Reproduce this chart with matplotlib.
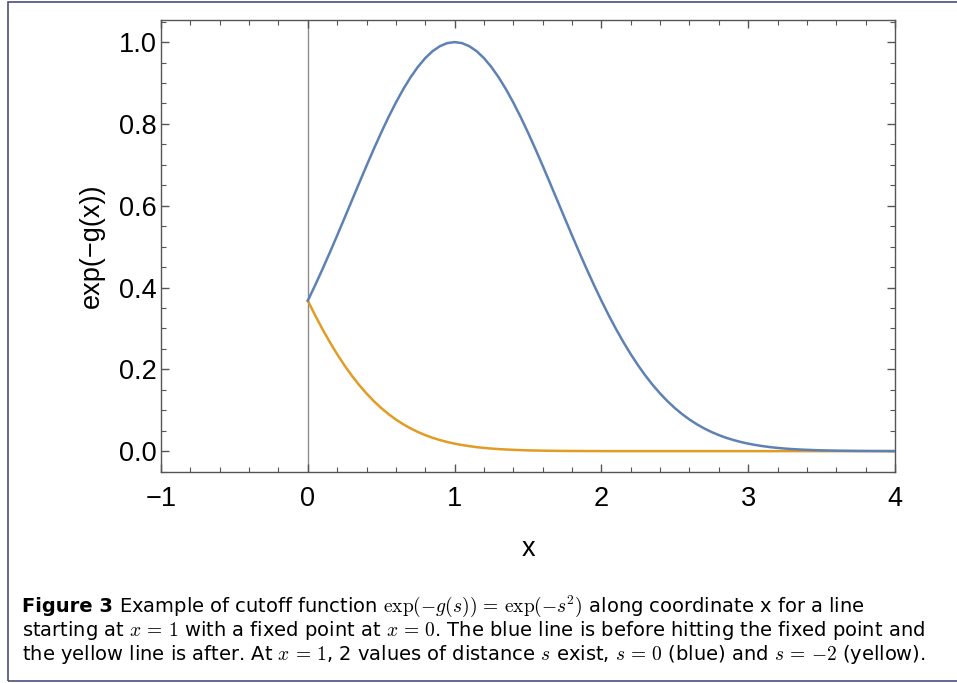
import numpy as np
import matplotlib
matplotlib.use('Agg')
import matplotlib.pyplot as plt
from matplotlib.patches import Rectangle
from matplotlib.ticker import MultipleLocator

plt.rcParams['mathtext.fontset'] = 'cm'

# values, x step 0.05 from 0 to 4
x_vals = [round(0.05 * i, 2) for i in range(81)]
blue_vals = [0.3679, 0.4056, 0.4449, 0.4855, 0.5273, 0.5698, 0.6126, 0.6554, 0.6977, 0.7390,
             0.7788, 0.8167, 0.8521, 0.8847, 0.9139, 0.9394, 0.9608, 0.9778, 0.9900, 0.9975,
             1.0000,
             0.9975, 0.9900, 0.9778, 0.9608, 0.9394, 0.9139, 0.8847, 0.8521, 0.8167, 0.7788,
             0.7390, 0.6977, 0.6554, 0.6126, 0.5698, 0.5273, 0.4855, 0.4449, 0.4056, 0.3679,
             0.3320, 0.2982, 0.2665, 0.2369, 0.2096, 0.1845, 0.1616, 0.1409, 0.1221, 0.1054,
             0.0905, 0.0773, 0.0657, 0.0556, 0.0468, 0.0392, 0.0326, 0.0271, 0.0223, 0.0183,
             0.0150, 0.0122, 0.0098, 0.0079, 0.0063, 0.0050, 0.0040, 0.0032, 0.0025, 0.0019,
             0.0015, 0.0012, 0.0009, 0.0007, 0.0005, 0.0004, 0.0003, 0.0002, 0.0002, 0.0001]
yellow_vals = [0.3679, 0.3320, 0.2982, 0.2665, 0.2369, 0.2096, 0.1845, 0.1616, 0.1409, 0.1221,
               0.1054, 0.0905, 0.0773, 0.0657, 0.0556, 0.0468, 0.0392, 0.0326, 0.0271, 0.0223,
               0.0183, 0.0150, 0.0122, 0.0098, 0.0079, 0.0063, 0.0050, 0.0040, 0.0032, 0.0025,
               0.0019, 0.0015, 0.0012, 0.0009, 0.0007, 0.0005, 0.0004, 0.0003, 0.0002, 0.0002,
               0.0001] + [0.0] * 40
x_ticks = [-1, 0, 1, 2, 3, 4]
x_tick_labels = ['\u22121', '0', '1', '2', '3', '4']
y_ticks = [0.0, 0.2, 0.4, 0.6, 0.8, 1.0]

caption_rest1 = r"Example of cutoff function $\exp(-g(s))\,=\,\exp(-s^2)$ along coordinate x for a line"
caption_line2 = r"starting at $x\,=\,1$ with a fixed point at $x\,=\,0$. The blue line is before hitting the fixed point and"
caption_line3 = r"the yellow line is after. At $x\,=\,1$, 2 values of distance $s$ exist, $s\,=\,0$ (blue) and $s\,=\,{-2}$ (yellow)."

fig = plt.figure(figsize=(9.57, 6.83), dpi=100)
ax = fig.add_axes([161/957, 1 - 472/683, (895 - 161)/957, (472 - 20)/683])

axis_col = '#555555'
ax.axvline(0, color='#8c8c8c', lw=1.0, zorder=1)
ax.plot(x_vals, blue_vals, color='#5E81B5', lw=1.8, zorder=3)
ax.plot(x_vals, yellow_vals, color='#E19C24', lw=1.8, zorder=2)

ax.set_xlim(-1, 4)
ax.set_ylim(-0.051, 1.054)
ax.set_xticks(x_ticks)
ax.set_xticklabels(x_tick_labels)
ax.set_yticks(y_ticks)
ax.set_yticklabels(['%.1f' % v for v in y_ticks])
ax.xaxis.set_minor_locator(MultipleLocator(0.2))
ax.yaxis.set_minor_locator(MultipleLocator(0.05))
ax.tick_params(which='both', direction='in', top=True, right=True, color=axis_col,
               labelsize=19.5, labelcolor='black')
ax.tick_params(which='major', length=6, width=1.0)
ax.tick_params(which='minor', length=3.5, width=0.8)
ax.tick_params(axis='x', which='major', pad=10)
ax.tick_params(axis='y', which='major', pad=3)
for lab in ax.get_xticklabels() + ax.get_yticklabels():
    lab.set_family('Liberation Sans')
for sp in ax.spines.values():
    sp.set_color(axis_col)
    sp.set_linewidth(1.0)

ax.set_xlabel('x', fontsize=19.5, family='Liberation Sans', labelpad=17)
ax.set_ylabel('exp(\u2212g(x))', fontsize=19.5, family='Liberation Sans', labelpad=10)

# outer frame
fig.patches.append(Rectangle((8/957, 1 - 681/683), 1.2, (681 - 2)/683, transform=fig.transFigure,
                             fill=False, edgecolor='#4a4f7a', lw=1.2))

# caption
cap_kw = dict(fontsize=14.0, family='DejaVu Sans', va='baseline')
t = fig.text(22/957, 1 - 612/683, 'Figure 3', weight='bold', **cap_kw)
fig.canvas.draw()
bb = t.get_window_extent()
fig.text((bb.x1 + 6)/957, 1 - 612/683, caption_rest1, **cap_kw)
fig.text(22/957, 1 - 636/683, caption_line2, **cap_kw)
fig.text(22/957, 1 - 660/683, caption_line3, **cap_kw)

fig.savefig('out.png', dpi=100)
